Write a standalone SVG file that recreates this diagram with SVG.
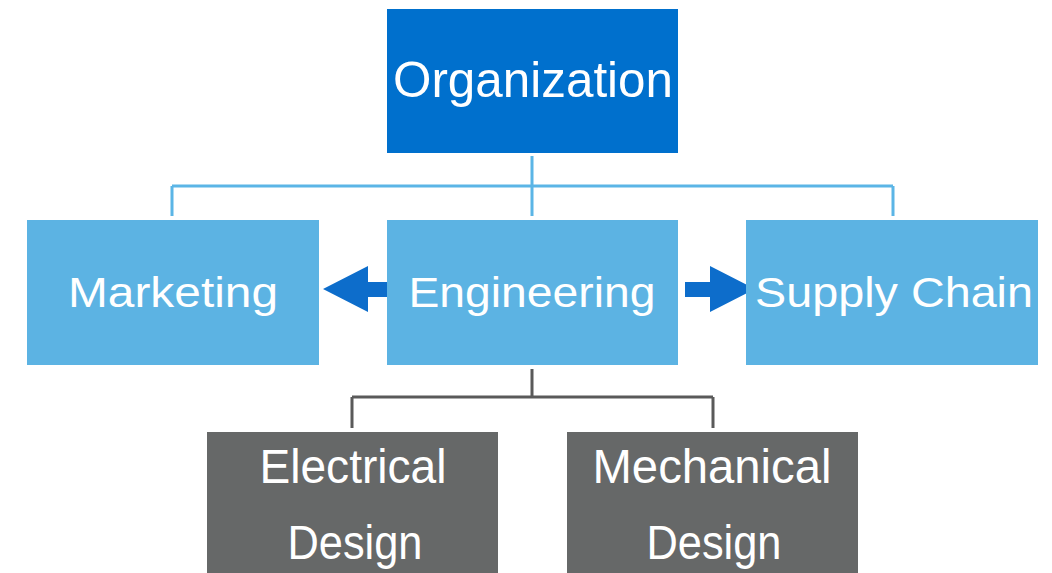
<svg xmlns="http://www.w3.org/2000/svg" width="1052" height="573" viewBox="0 0 1052 573">
  <style>
    .lbl { font-family: "Liberation Sans", "DejaVu Sans", sans-serif; fill: #ffffff; text-anchor: middle; }
    .top { fill: #0070cd; }
    .mid { fill: #5cb3e3; }
    .low { fill: #666868; }
    .blue-link { stroke: #5bb5e6; stroke-width: 3; fill: none; }
    .gray-link { stroke: #5a5a5a; stroke-width: 3; fill: none; }
    .flow { fill: #0d6dcb; }
  </style>
  <rect width="1052" height="573" fill="#ffffff"/>

  <g id="connectors">
    <path class="blue-link" d="M532 156 V216 M172 186 H893 M172 186 V216 M893 186 V216"/>
    <path class="gray-link" d="M532 369 V397 M352 397 H713 M352 397 V428 M713 397 V428"/>
    <!-- Engineering to Marketing -->
    <polygon class="flow" points="392,282 368,282 368,266 323,289 368,312 368,297 392,297"/>
    <!-- Engineering to Supply Chain -->
    <polygon class="flow" points="685,282 710,282 710,266 755,289 710,312 710,297 685,297"/>
  </g>

  <g id="organization">
    <rect class="top" x="387" y="9" width="291" height="144"/>
    <text class="lbl" x="533" y="97" font-size="50" textLength="280" lengthAdjust="spacingAndGlyphs">Organization</text>
  </g>

  <g id="marketing">
    <rect class="mid" x="27" y="220" width="292" height="145"/>
    <text class="lbl" x="173" y="307" font-size="43" textLength="210" lengthAdjust="spacingAndGlyphs">Marketing</text>
  </g>

  <g id="engineering">
    <rect class="mid" x="387" y="220" width="291" height="145"/>
    <text class="lbl" x="532" y="307" font-size="43" textLength="247" lengthAdjust="spacingAndGlyphs">Engineering</text>
  </g>

  <g id="supply-chain">
    <rect class="mid" x="746" y="220" width="292" height="145"/>
    <text class="lbl" x="894" y="307" font-size="43" textLength="278" lengthAdjust="spacingAndGlyphs">Supply Chain</text>
  </g>

  <g id="electrical-design">
    <rect class="low" x="207" y="432" width="291" height="141"/>
    <text class="lbl" x="353" y="483" font-size="48" textLength="187" lengthAdjust="spacingAndGlyphs">Electrical</text>
    <text class="lbl" x="355" y="559" font-size="48" textLength="135" lengthAdjust="spacingAndGlyphs">Design</text>
  </g>

  <g id="mechanical-design">
    <rect class="low" x="567" y="432" width="291" height="141"/>
    <text class="lbl" x="712" y="483" font-size="48" textLength="239" lengthAdjust="spacingAndGlyphs">Mechanical</text>
    <text class="lbl" x="714" y="559" font-size="48" textLength="135" lengthAdjust="spacingAndGlyphs">Design</text>
  </g>
</svg>
